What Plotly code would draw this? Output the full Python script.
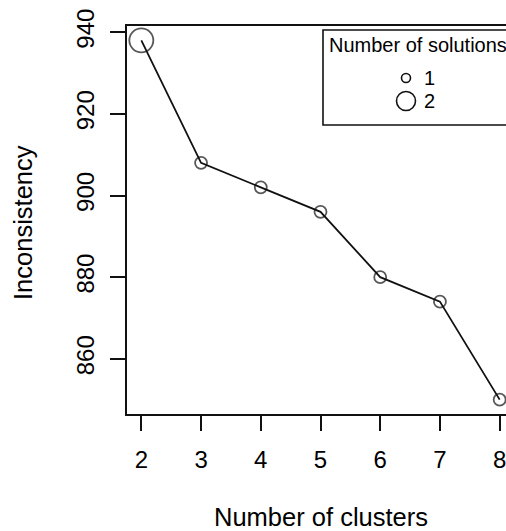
import plotly.graph_objects as go

# ---- data ----
clusters = [2, 3, 4, 5, 6, 7, 8]
inconsistency = [938, 908, 902, 896, 880, 874, 850]
solutions = [2, 1, 1, 1, 1, 1, 1]
x_ticks = [2, 3, 4, 5, 6, 7, 8]
y_ticks = [860, 880, 900, 920, 940]
legend_levels = [1, 2]
legend_title = "Number of solutions"
x_title = "Number of clusters"
y_title = "Inconsistency"

# ---- layout geometry ----
W, H = 506, 531
L, T, B = 127, 26, 117
plot_w = W - L
plot_h = H - T - B
full_w = 387  # R plot region extends beyond the window on the right

xpad = 0.04 * (max(clusters) - min(clusters))
ypad = 0.04 * (max(inconsistency) - min(inconsistency))
x_lo = min(clusters) - xpad
x_hi_full = max(clusters) + xpad
px_per_x = full_w / (x_hi_full - x_lo)
x_range = [x_lo, x_lo + plot_w / px_per_x]
y_range = [min(inconsistency) - ypad, max(inconsistency) + ypad]

FONT = "Liberation Sans, Arial, Helvetica, sans-serif"
INK = "#111111"


def pxx(px):
    return (px - L) / plot_w


def pxy(py):
    return (H - B - py) / plot_h


fig = go.Figure()
fig.add_trace(go.Scatter(
    x=clusters, y=inconsistency,
    mode="lines+markers",
    line=dict(color=INK, width=1.8),
    marker=dict(symbol="circle-open", size=[12 * s for s in solutions],
                color=INK, line=dict(width=1.8, color=INK)),
    cliponaxis=False,
    showlegend=False,
    hoverinfo="x+y",
))

shapes = []
annotations = []

# legend box (extends beyond the right edge like the reference)
shapes.append(dict(type="rect", xref="paper", yref="paper",
                   x0=pxx(323), x1=pxx(W + 10), y0=pxy(125), y1=pxy(30),
                   line=dict(color=INK, width=1.6), fillcolor="white", layer="above"))
annotations.append(dict(text=legend_title, xref="paper", yref="paper",
                        x=pxx(327), y=pxy(45), xanchor="left", yanchor="middle",
                        showarrow=False, font=dict(family=FONT, size=20, color="#000")))
leg_y = [78, 101]
leg_d = [9, 19]
for lvl, ly, d in zip(legend_levels, leg_y, leg_d):
    r = d / 2
    shapes.append(dict(type="circle", xref="paper", yref="paper",
                       xsizemode="pixel", ysizemode="pixel",
                       xanchor=pxx(406), yanchor=pxy(ly),
                       x0=-r, x1=r, y0=-r, y1=r,
                       line=dict(color=INK, width=1.6), layer="above"))
    annotations.append(dict(text=str(lvl), xref="paper", yref="paper",
                            x=pxx(422), y=pxy(ly), xanchor="left", yanchor="middle",
                            showarrow=False, font=dict(family=FONT, size=20, color="#000")))

# axis titles
annotations.append(dict(text=x_title, xref="paper", yref="paper",
                        x=pxx(321), y=pxy(517), xanchor="center", yanchor="middle",
                        showarrow=False, font=dict(family=FONT, size=25.5, color="#000")))
annotations.append(dict(text=y_title, xref="paper", yref="paper",
                        x=pxx(23), y=pxy(223), xanchor="center", yanchor="middle",
                        textangle=-90, showarrow=False,
                        font=dict(family=FONT, size=25.5, color="#000")))

fig.update_layout(
    width=W, height=H,
    margin=dict(l=L, r=0, t=T, b=B, pad=0),
    paper_bgcolor="white", plot_bgcolor="white",
    font=dict(family=FONT, size=24, color="#000"),
    shapes=shapes, annotations=annotations,
    showlegend=False,
)
fig.update_xaxes(range=x_range, tickmode="array", tickvals=x_ticks,
                 ticktext=[str(v) for v in x_ticks],
                 showgrid=False, zeroline=False,
                 showline=True, linecolor=INK, linewidth=1.8, mirror=True,
                 ticks="outside", ticklen=15, tickwidth=1.8, tickcolor=INK,
                 tickfont=dict(family=FONT, size=24, color="#000"),
                 ticklabelstandoff=8, ticklabeloverflow="allow")
fig.update_yaxes(range=y_range, tickmode="array", tickvals=y_ticks,
                 ticktext=[str(v) for v in y_ticks],
                 showgrid=False, zeroline=False,
                 showline=True, linecolor=INK, linewidth=1.8, mirror=False,
                 ticks="outside", ticklen=15, tickwidth=1.8, tickcolor=INK,
                 tickangle=-90,
                 tickfont=dict(family=FONT, size=24, color="#000"),
                 ticklabelstandoff=7, ticklabeloverflow="allow")

fig.write_html("out.html")
